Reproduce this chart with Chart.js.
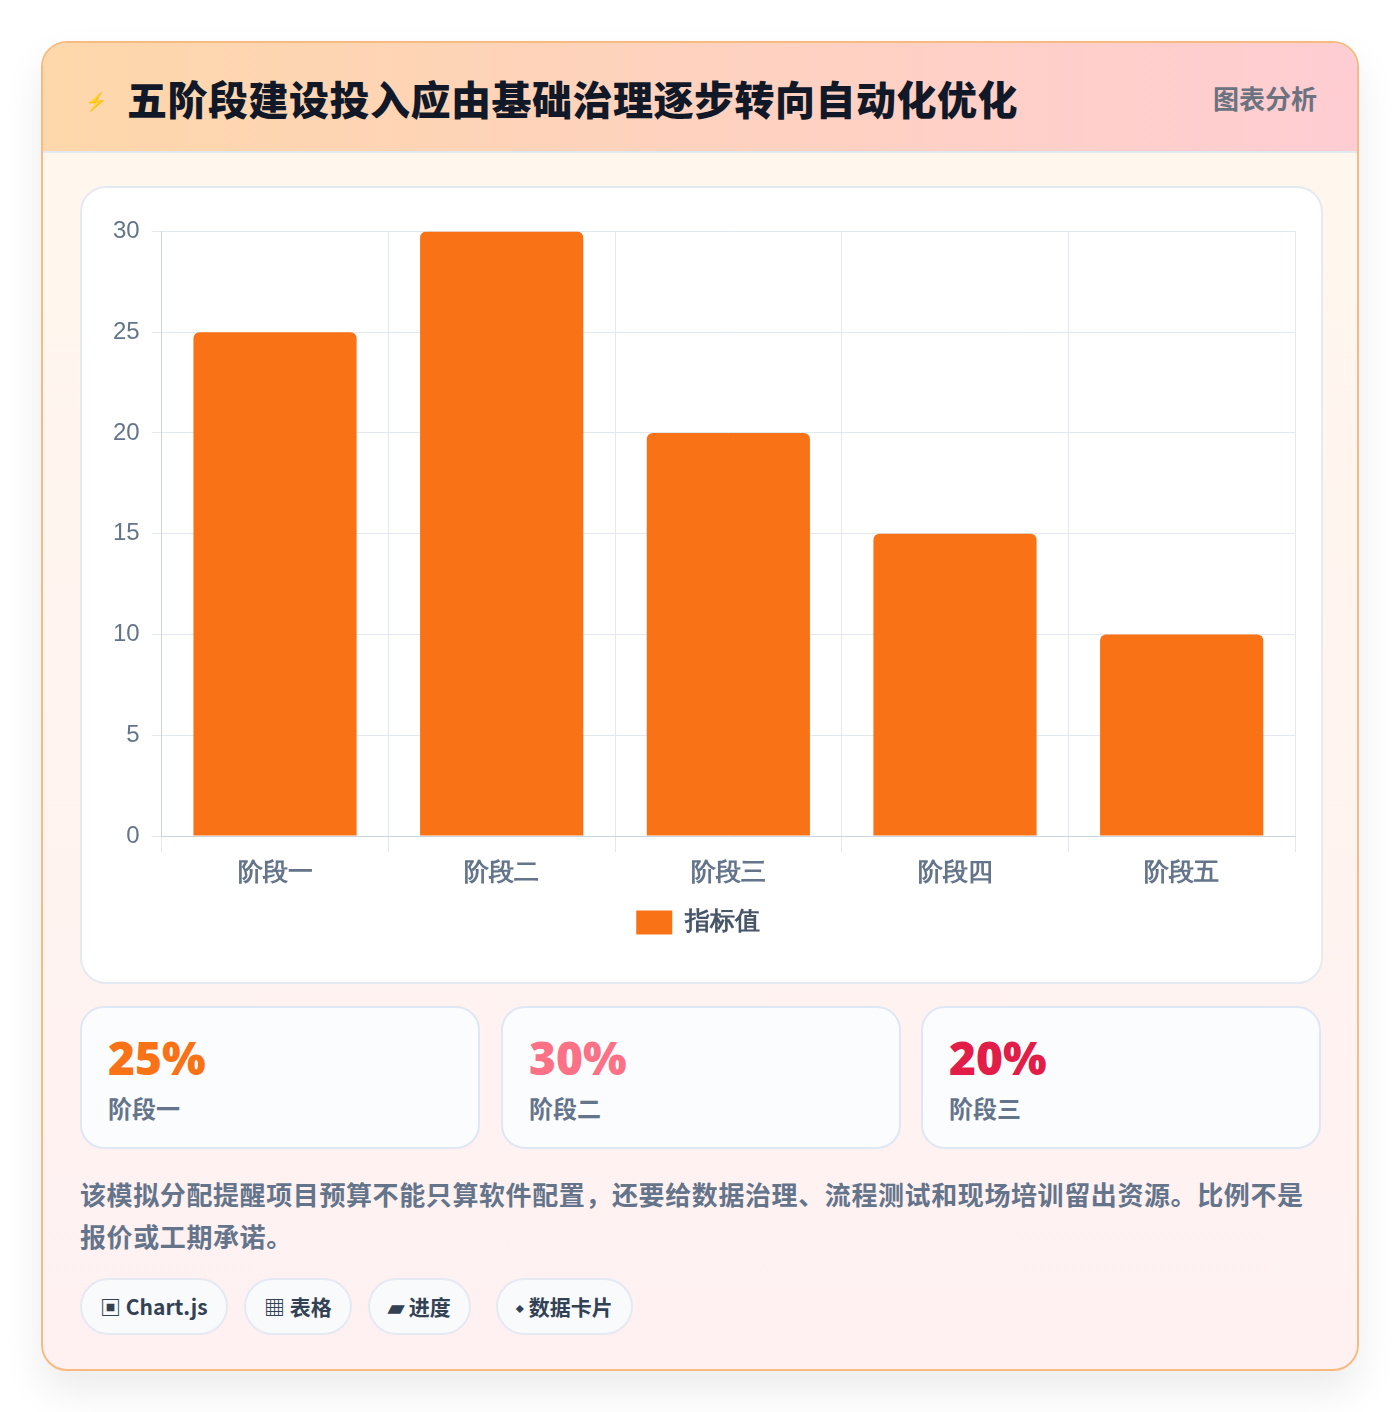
<!DOCTYPE html>
<html><head><meta charset="utf-8">
<script src="https://cdn.jsdelivr.net/npm/chart.js@4"></script>
<style>
*{box-sizing:border-box;margin:0;padding:0}
body{width:1400px;height:1412px;background:#fff;font-family:"Noto Sans CJK SC","Noto Sans",sans-serif;position:relative}
.card{position:absolute;left:41px;top:41px;width:1318px;height:1330px;border:2px solid #f7bb82;border-radius:26px;overflow:hidden;background:linear-gradient(180deg,#fff7ed,#fff1f2);box-shadow:0 20px 40px rgba(0,0,0,0.08)}
.head{height:110px;background:linear-gradient(90deg,#fed7aa,#fecdd3);border-bottom:2px solid #e2e8f0;position:relative}
.head .t{position:absolute;left:84px;top:26px;font-size:40px;font-weight:900;color:#111827;letter-spacing:0.5px}
.head .i{position:absolute;left:42px;top:44px;font-size:18px;color:#3b5bdb}
.head .r{position:absolute;right:40px;top:36px;font-size:26px;font-weight:700;color:#6b7280}
.panel{position:absolute;left:37px;top:143px;width:1243px;height:798px;background:#fff;border:2px solid #e5e9f2;border-radius:26px}
.cw{position:absolute;left:18px;top:17px;width:1205px;height:740px}
.stat{position:absolute;top:963px;width:400px;height:143px;background:#fbfcfe;border:2px solid #dfe7f5;border-radius:24px}
.stat .v{position:absolute;left:26px;top:18px;font-size:46px;font-weight:900;font-family:"Open Sans","Noto Sans",sans-serif}
.stat .l{position:absolute;left:26px;top:82px;font-size:24px;font-weight:700;color:#64748b}
.note{position:absolute;left:37px;top:1130px;width:1250px;font-size:26px;font-weight:700;color:#64748b;line-height:42px;letter-spacing:0.6px}
.pill{position:absolute;top:1235px;height:57px;border:2px solid #e5e9f2;border-radius:29px;background:#f8fafc;font-size:21px;font-weight:700;color:#334155;line-height:53px;padding:0 18px;white-space:nowrap}
</style></head><body>
<div class="card">
<div class="head"><span class="i">⚡</span><div class="t">五阶段建设投入应由基础治理逐步转向自动化优化</div><div class="r">图表分析</div></div>
<div class="panel"><div class="cw"><canvas id="c"></canvas></div></div>
<div class="stat" style="left:37px"><div class="v" style="color:#f97316">25%</div><div class="l">阶段一</div></div>
<div class="stat" style="left:458px"><div class="v" style="color:#fb7185">30%</div><div class="l">阶段二</div></div>
<div class="stat" style="left:878px"><div class="v" style="color:#e11d48">20%</div><div class="l">阶段三</div></div>
<div class="note">该模拟分配提醒项目预算不能只算软件配置，还要给数据治理、流程测试和现场培训留出资源。比例不是报价或工期承诺。</div>
<div class="pill" style="left:37px">▣ Chart.js</div>
<div class="pill" style="left:201px">▦ 表格</div>
<div class="pill" style="left:325px">▰ 进度</div>
<div class="pill" style="left:453px">⬩ 数据卡片</div>
</div>
<script>
const categories=["阶段一","阶段二","阶段三","阶段四","阶段五"];
const values=[25,30,20,15,10];
const seriesName="指标值";
new Chart(document.getElementById('c'),{type:'bar',
data:{labels:categories,datasets:[{label:seriesName,data:values,backgroundColor:'#f97316',borderRadius:6}]},
options:{responsive:true,maintainAspectRatio:false,animation:false,
layout:{padding:{right:10,left:1}},
scales:{
y:{min:0,max:30,ticks:{stepSize:5,color:'#64748b',font:{size:24},padding:12},grid:{color:'#e2e8f0',tickLength:10},border:{color:'#cbd5e1'}},
x:{ticks:{color:'#64748b',font:{size:25,weight:'bold'},padding:6},grid:{color:'#e2e8f0',tickLength:16},border:{color:'#cbd5e1'}}},
plugins:{legend:{position:'bottom',labels:{color:'#475569',boxWidth:36,boxHeight:24,padding:16,font:{size:25,weight:'bold'}}}}}});
</script></body></html>
